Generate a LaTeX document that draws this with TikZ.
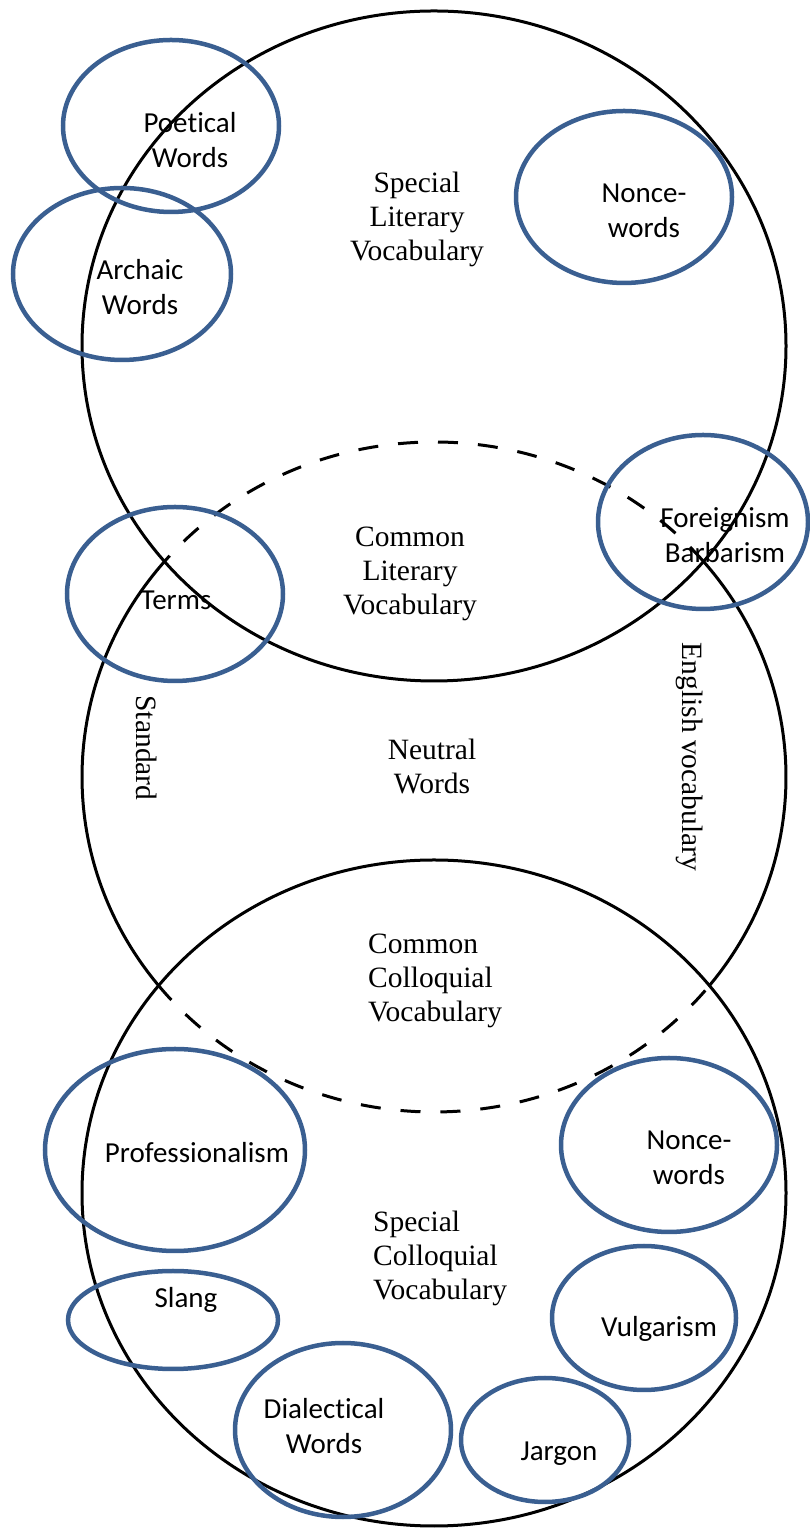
\documentclass[tikz,border=0pt]{standalone}
\usepackage{fontspec}
\setmainfont{Liberation Serif}
\newfontfamily\calib[Ligatures=NoCommon]{Carlito}
\usetikzlibrary{shapes.geometric}
\definecolor{ringblue}{RGB}{58,95,145}
\begin{document}
\begin{tikzpicture}[x=1pt,y=1pt,
  bigline/.style={black,line width=3pt},
  dashline/.style={black,line width=3pt,dash pattern=on 20pt off 20pt},
  ring/.style={draw=ringblue,line width=4.5pt,ellipse,inner sep=0pt},
  serif/.style={font=\fontsize{29.5}{34}\selectfont,inner sep=0pt},
  sans/.style={font=\calib\fontsize{29}{35}\selectfont,inner sep=0pt}]
\useasboundingbox (0,0) rectangle (809,1528);
% big ellipses
\coordinate (T) at (434,1182);
\coordinate (M) at (434,751);
\coordinate (B) at (434,335);
\draw[bigline] (T) ellipse [x radius=352, y radius=335];
\draw[bigline] (B) ellipse [x radius=352, y radius=333];
\draw[dashline] (M) ++(40:352 and 335) arc[start angle=40,end angle=140,x radius=352,y radius=335];
\draw[dashline] (M) ++(218.4:352 and 335) arc[start angle=218.4,end angle=321.6,x radius=352,y radius=335];
\draw[bigline] (M) ++(140:352 and 335) arc[start angle=140,end angle=218.4,x radius=352,y radius=335];
\draw[bigline] (M) ++(-38.4:352 and 335) arc[start angle=-38.4,end angle=40,x radius=352,y radius=335];
% blue rings
\node[ring,minimum width=216pt,minimum height=172pt] (poet) at (171,1402) {};
\node[ring,minimum width=218pt,minimum height=172pt] (arch) at (122,1254) {};
\node[ring,minimum width=216pt,minimum height=172pt] (nonceA) at (624,1331) {};
\node[ring,minimum width=216pt,minimum height=174pt] (terms) at (175,934) {};
\node[ring,minimum width=210pt,minimum height=174pt] (foreign) at (703,1006) {};
\node[ring,minimum width=260pt,minimum height=202pt] (prof) at (175,378) {};
\node[ring,minimum width=216pt,minimum height=174pt] (nonceB) at (669,383) {};
\node[ring,minimum width=210pt,minimum height=98pt] (slang) at (173,208) {};
\node[ring,minimum width=184pt,minimum height=144pt] (vulg) at (644,210) {};
\node[ring,minimum width=216pt,minimum height=174pt] (dial) at (343,98) {};
\node[ring,minimum width=168pt,minimum height=124pt] (jarg) at (545,88) {};
% serif texts
\node[serif,align=center] (slv) at (417,1309) {Special\\Literary\\Vocabulary};
\node[serif,align=center] (clv) at (410,954) {Common\\Literary\\Vocabulary};
\node[serif,align=center] (nw) at (432,762) {Neutral\\Words};
\node[serif,align=left,anchor=west] (ccv) at (368,547) {Common\\Colloquial\\Vocabulary};
\node[serif,align=left,anchor=west] (scv) at (373,270) {Special\\Colloquial\\Vocabulary};
\node[serif,rotate=-90] (std) at (147,780) {Standard};
\node[serif,rotate=-90] (engl) at (690,771) {English vocabulary};
% sans texts
\node[sans,align=center] (tpoet) at (190,1388) {Poetical\\Words};
\node[sans,align=center] (tarch) at (140,1241) {Archaic\\Words};
\node[sans,align=center] (tnonceA) at (644,1317) {Nonce-\\words};
\node[sans] (tterms) at (176,928) {Terms};
\node[sans,align=center] (tforeign) at (725,993) {Foreignism\\Barbarism};
\node[sans] (tprof) at (197,375) {Professionalism};
\node[sans,align=center] (tnonceB) at (689,370) {Nonce-\\words};
\node[sans] (tslang) at (186,228) {Slang};
\node[sans] (tvulg) at (659,199) {Vulgarism};
\node[sans,align=center] (tdial) at (324,102) {Dialectical\\Words};
\node[sans] (tjarg) at (559,74) {Jargon};
\end{tikzpicture}
\end{document}
